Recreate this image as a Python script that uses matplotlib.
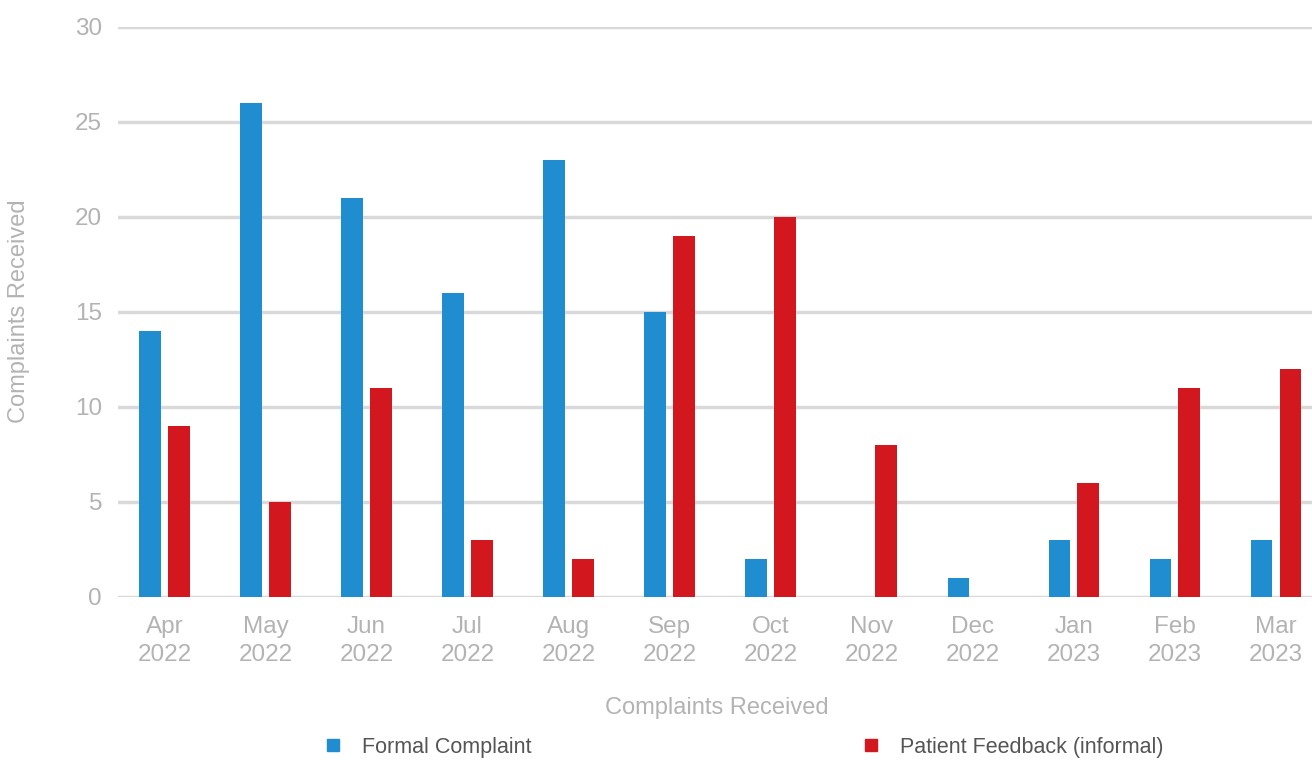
import numpy as np
import matplotlib.pyplot as plt
from matplotlib.lines import Line2D

plt.rcParams['font.family'] = ['Liberation Sans', 'DejaVu Sans']

months = ['Apr\n2022', 'May\n2022', 'Jun\n2022', 'Jul\n2022', 'Aug\n2022', 'Sep\n2022',
          'Oct\n2022', 'Nov\n2022', 'Dec\n2022', 'Jan\n2023', 'Feb\n2023', 'Mar\n2023']
formal = [14, 26, 21, 16, 23, 15, 2, 0, 1, 3, 2, 3]
informal = [9, 5, 11, 3, 2, 19, 20, 8, 0, 6, 11, 12]

blue = '#1f8dd0'
red = '#d2181e'
grey_text = '#b3b3b3'

fig = plt.figure(figsize=(13.12, 7.6), dpi=100)
ax = fig.add_axes([0.09, 0.2145, 0.9243, 0.75])

x = np.arange(len(months))
w = 0.215
off = 0.1425
ax.bar(x - off, formal, w, color=blue, zorder=3)
ax.bar(x + off, informal, w, color=red, zorder=3)

ax.set_xlim(-0.458, len(months) - 0.458)
ax.set_ylim(0, 30)
ax.set_yticks(range(0, 31, 5))
ax.set_xticks(x)
ax.set_xticklabels(months, linespacing=1.36)
ax.yaxis.grid(True, color='#d9d9d9', linewidth=2.5, zorder=0)
ax.set_axisbelow(True)
for s in ax.spines.values():
    s.set_visible(False)
ax.tick_params(axis='both', length=0, labelsize=17.5, labelcolor=grey_text)
ax.tick_params(axis='y', pad=11.5)
ax.tick_params(axis='x', pad=13.5)

# axis titles
fig.text(0.5465, 0.0684, 'Complaints Received', fontsize=17, color=grey_text,
         ha='center', va='center')
fig.text(0.0145, 0.591, 'Complaints Received', rotation=90, fontsize=17,
         color=grey_text, ha='center', va='center')

handles = [Line2D([], [], marker='s', linestyle='none', markersize=8, color=blue),
           Line2D([], [], marker='s', linestyle='none', markersize=8, color=red)]
fig.legend(handles, ['Formal Complaint', 'Patient Feedback (informal)'],
           loc='center left', bbox_to_anchor=(0.2454, 0.0171), ncol=2, frameon=False,
           fontsize=15.5, labelcolor='#555555', handlelength=1, handletextpad=0.84,
           columnspacing=15.3, borderpad=0, borderaxespad=0)

fig.savefig('out.png', dpi=100)
